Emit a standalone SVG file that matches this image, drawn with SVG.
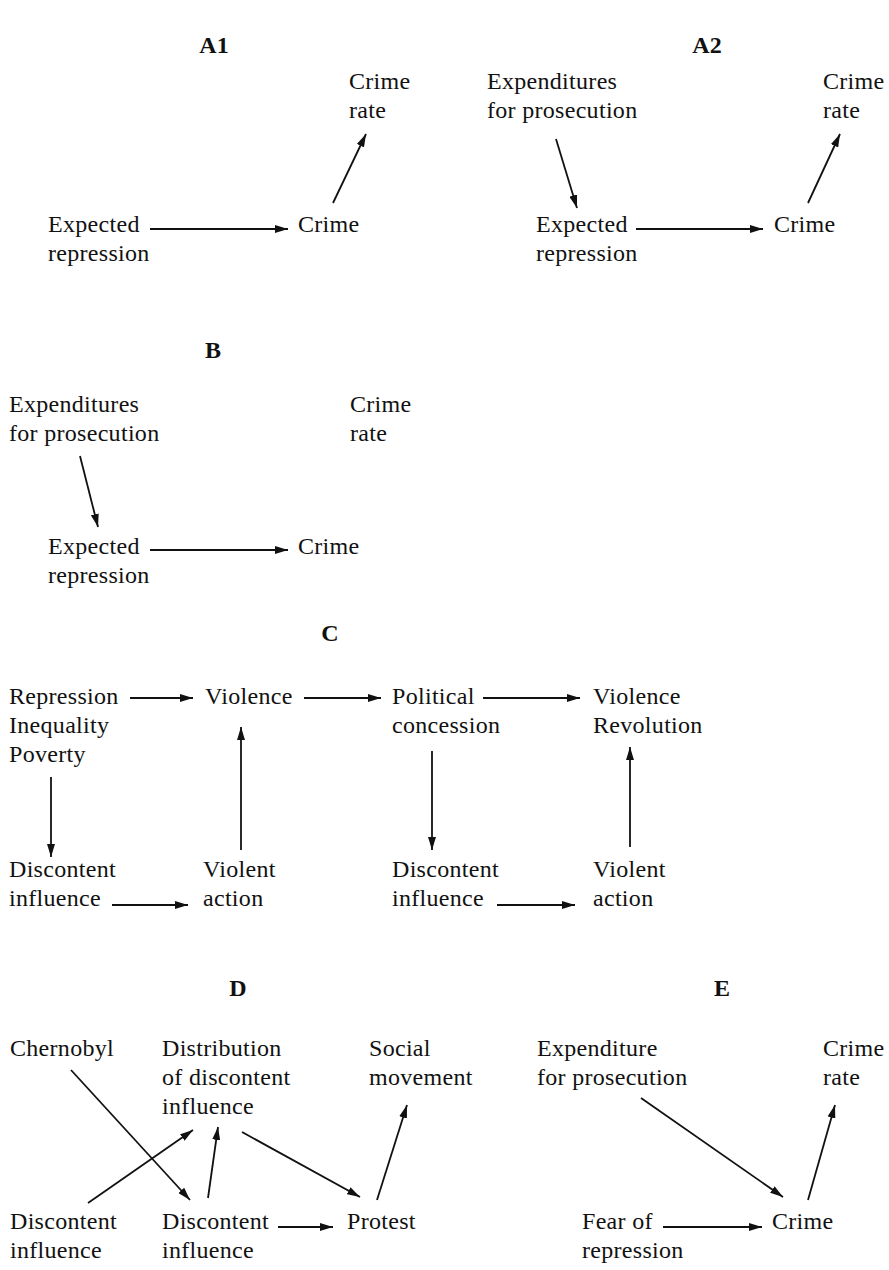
<svg xmlns="http://www.w3.org/2000/svg" width="889" height="1270" viewBox="0 0 889 1270">
<style>
text{font-family:"Liberation Serif","Times New Roman",serif;font-size:24px;letter-spacing:0.3px;fill:#111;}
.t{font-weight:bold;text-anchor:middle;font-size:24px;letter-spacing:0;}
.c line{stroke:#111;stroke-width:1.8;marker-end:url(#ah);}
</style>
<defs>
<marker id="ah" markerUnits="userSpaceOnUse" markerWidth="13" markerHeight="8" refX="13" refY="4" orient="auto">
<path d="M0,0 L13,4 L0,8 z" fill="#111"/>
</marker>
</defs>
<rect width="889" height="1270" fill="#fff"/>
<g id="titles">
<text class="t" x="214" y="53">A1</text>
<text class="t" x="707" y="53">A2</text>
<text class="t" x="213" y="358">B</text>
<text class="t" x="330" y="641">C</text>
<text class="t" x="238" y="996">D</text>
<text class="t" x="722" y="996">E</text>
</g>
<!-- A1 -->
<g id="a1-crimerate"><text x="349" y="89">Crime</text><text x="349" y="118">rate</text></g>
<g id="a1-expected"><text x="48" y="232">Expected</text><text x="48" y="261">repression</text></g>
<g id="a1-crime"><text x="298" y="232">Crime</text></g>
<!-- A2 -->
<g id="a2-expend"><text x="487" y="89">Expenditures</text><text x="487" y="118">for prosecution</text></g>
<g id="a2-crimerate"><text x="823" y="89">Crime</text><text x="823" y="118">rate</text></g>
<g id="a2-expected"><text x="536" y="232">Expected</text><text x="536" y="261">repression</text></g>
<g id="a2-crime"><text x="774" y="232">Crime</text></g>
<!-- B -->
<g id="b-expend"><text x="9" y="412">Expenditures</text><text x="9" y="441">for prosecution</text></g>
<g id="b-crimerate"><text x="350" y="412">Crime</text><text x="350" y="441">rate</text></g>
<g id="b-expected"><text x="48" y="554">Expected</text><text x="48" y="583">repression</text></g>
<g id="b-crime"><text x="298" y="554">Crime</text></g>
<!-- C -->
<g id="c-rip"><text x="9" y="704">Repression</text><text x="9" y="733">Inequality</text><text x="9" y="762">Poverty</text></g>
<g id="c-violence1"><text x="205" y="704">Violence</text></g>
<g id="c-political"><text x="392" y="704">Political</text><text x="392" y="733">concession</text></g>
<g id="c-violrev"><text x="593" y="704">Violence</text><text x="593" y="733">Revolution</text></g>
<g id="c-disc1"><text x="9" y="877">Discontent</text><text x="9" y="906">influence</text></g>
<g id="c-va1"><text x="203" y="877">Violent</text><text x="203" y="906">action</text></g>
<g id="c-disc2"><text x="392" y="877">Discontent</text><text x="392" y="906">influence</text></g>
<g id="c-va2"><text x="593" y="877">Violent</text><text x="593" y="906">action</text></g>
<!-- D -->
<g id="d-chernobyl"><text x="10" y="1056">Chernobyl</text></g>
<g id="d-distribution"><text x="162" y="1056">Distribution</text><text x="162" y="1085">of discontent</text><text x="162" y="1114">influence</text></g>
<g id="d-social"><text x="369" y="1056">Social</text><text x="369" y="1085">movement</text></g>
<g id="d-disc1"><text x="10" y="1229">Discontent</text><text x="10" y="1258">influence</text></g>
<g id="d-disc2"><text x="162" y="1229">Discontent</text><text x="162" y="1258">influence</text></g>
<g id="d-protest"><text x="347" y="1229">Protest</text></g>
<!-- E -->
<g id="e-expend"><text x="537" y="1056">Expenditure</text><text x="537" y="1085">for prosecution</text></g>
<g id="e-crimerate"><text x="823" y="1056">Crime</text><text x="823" y="1085">rate</text></g>
<g id="e-fear"><text x="582" y="1229">Fear of</text><text x="582" y="1258">repression</text></g>
<g id="e-crime"><text x="772" y="1229">Crime</text></g>
<g id="connectors" class="c">
<line x1="150" y1="229" x2="288" y2="229"/>
<line x1="333" y1="203" x2="366" y2="134"/>
<line x1="556" y1="139" x2="577" y2="208"/>
<line x1="636" y1="229" x2="763" y2="229"/>
<line x1="808" y1="203" x2="840" y2="134"/>
<line x1="80" y1="456" x2="98" y2="527"/>
<line x1="150" y1="550" x2="288" y2="550"/>
<line x1="130" y1="698" x2="193" y2="698"/>
<line x1="304" y1="698" x2="381" y2="698"/>
<line x1="483" y1="698" x2="580" y2="698"/>
<line x1="51" y1="777" x2="51" y2="857"/>
<line x1="112" y1="905" x2="188" y2="905"/>
<line x1="241" y1="850" x2="241" y2="727"/>
<line x1="432" y1="751" x2="432" y2="850"/>
<line x1="497" y1="905" x2="575" y2="905"/>
<line x1="630" y1="847" x2="630" y2="747"/>
<line x1="71" y1="1070" x2="190" y2="1200"/>
<line x1="88" y1="1203" x2="193" y2="1130"/>
<line x1="208" y1="1198" x2="218" y2="1127"/>
<line x1="242" y1="1132" x2="360" y2="1197"/>
<line x1="377" y1="1200" x2="407" y2="1105"/>
<line x1="278" y1="1227" x2="333" y2="1227"/>
<line x1="641" y1="1098" x2="783" y2="1197"/>
<line x1="663" y1="1227" x2="762" y2="1227"/>
<line x1="808" y1="1200" x2="835" y2="1105"/>
</g>
</svg>
